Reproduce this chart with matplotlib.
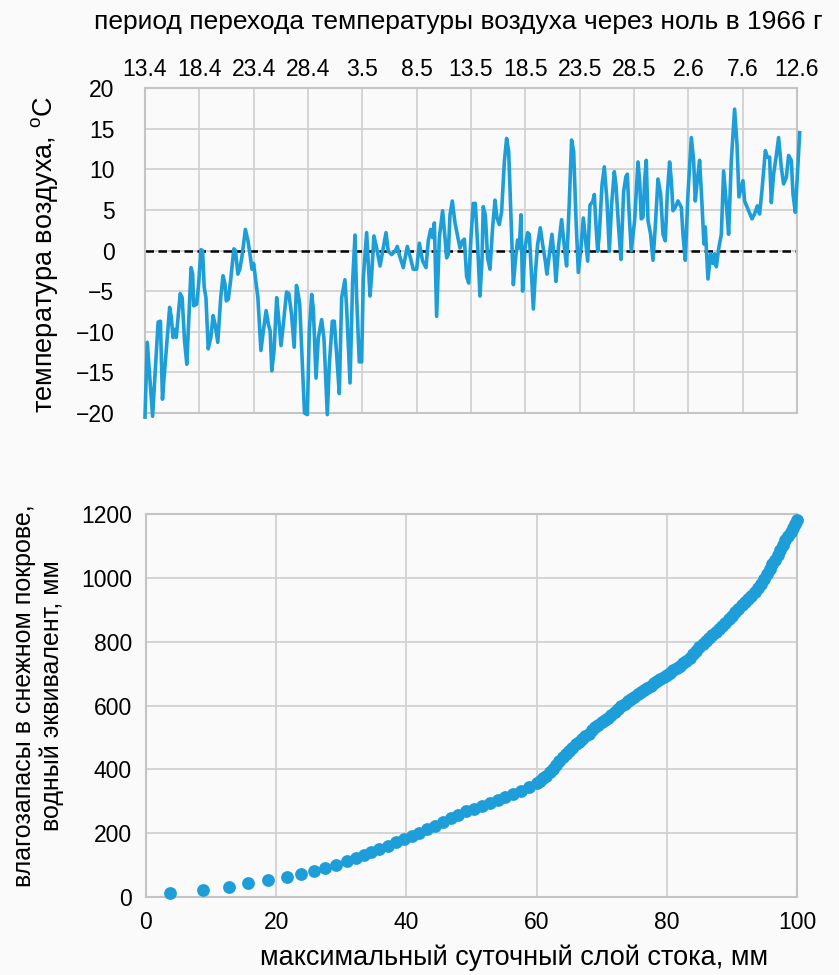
import matplotlib as mpl
import matplotlib.pyplot as plt
import numpy as np

mpl.rcParams["font.family"] = ["Liberation Sans", "DejaVu Sans"]
mpl.rcParams["font.size"] = 16

# --- top panel: air temperature, days since 13.4 ---
date_labels = ["13.4", "18.4", "23.4", "28.4", "3.5", "8.5", "13.5",
               "18.5", "23.5", "28.5", "2.6", "7.6", "12.6"]
day = [0.0, 0.21, 0.70, 1.21, 1.42, 1.61, 1.76, 2.27, 2.42, 2.58, 2.73, 2.88,
       3.24, 3.42, 3.64, 3.85, 4.24, 4.39, 4.48, 4.76, 4.94, 5.15, 5.30, 5.45,
       5.61, 5.82, 6.06, 6.27, 6.45, 6.70, 6.97, 7.18, 7.36, 7.48, 7.67, 7.88,
       8.18, 8.33, 8.55, 8.73, 8.94, 9.24, 9.48, 9.70, 9.85, 10.0, 10.21, 10.39,
       10.67, 10.91, 11.15, 11.36, 11.52, 11.67, 11.88, 12.12, 12.27, 12.52,
       12.73, 13.03, 13.24, 13.48, 13.73, 13.94, 14.09, 14.24, 14.39, 14.68,
       14.94, 15.12, 15.34, 15.49, 15.74, 15.95, 16.26, 16.47, 16.78, 16.96,
       17.24, 17.42, 17.64, 17.88, 18.10, 18.40, 18.56, 18.87, 19.11, 19.33,
       19.48, 19.72, 19.94, 20.09, 20.40, 20.55, 20.71, 20.86, 21.07, 21.32,
       21.63, 21.87, 22.18, 22.39, 22.70, 23.01, 23.22, 23.40, 23.77, 24.14,
       24.39, 24.69, 25.0, 25.25, 25.55, 25.86, 26.07, 26.29, 26.47, 26.63,
       26.84, 27.09, 27.39, 27.61, 27.76, 27.91, 28.07, 28.28, 28.53, 28.74,
       28.99, 29.23, 29.39, 29.60, 29.79, 30.0, 30.21, 30.40, 30.61, 30.83,
       31.01, 31.13, 31.32, 31.53, 31.75, 31.99, 32.21, 32.39, 32.61, 32.82,
       33.07, 33.28, 33.47, 33.68, 33.90, 34.08, 34.29, 34.45, 34.60, 34.75,
       34.97, 35.21, 35.37, 35.52, 35.74, 35.92, 36.13, 36.38, 36.60, 36.84,
       36.99, 37.21, 37.45, 37.67, 37.82, 38.07, 38.34, 38.59, 38.80, 39.05,
       39.26, 39.45, 39.66, 39.88, 40.12, 40.34, 40.52, 40.74, 40.95, 41.20,
       41.35, 41.50, 41.66, 41.81, 42.06, 42.27, 42.52, 42.73, 42.94, 43.19,
       43.34, 43.59, 43.80, 44.05, 44.26, 44.39, 44.51, 44.75, 45.06, 45.37,
       45.52, 45.67, 45.83, 45.98, 46.13, 46.29, 46.53, 46.75, 46.96, 47.21,
       47.45, 47.67, 47.88, 48.07, 48.28, 48.44, 48.59, 48.80, 49.05, 49.36,
       49.51, 49.72, 49.97, 50.28, 50.49, 50.64, 50.83, 51.04, 51.26, 51.44,
       51.56, 51.81, 52.06, 52.27, 52.42, 52.58, 52.79, 53.04, 53.25, 53.50,
       53.71, 53.96, 54.26, 54.48, 54.66, 54.88, 55.03, 55.18, 55.49, 55.86,
       56.10, 56.35, 56.56, 56.78, 57.09, 57.27, 57.48, 57.64, 57.85, 58.10,
       58.31, 58.56, 58.77, 59.02, 59.23, 59.48, 59.63, 59.85, 60.25]
temp = [-20.5, -11.3, -20.4, -8.8, -8.7, -18.3, -15.6, -7.0, -8.2, -10.7, -9.7, -10.7,
        -5.3, -5.8, -11.1, -14.0, -2.1, -2.9, -6.8, -6.6, -4.1, 0.1, 0.0, -4.5,
        -5.8, -12.1, -10.7, -8.0, -9.1, -11.3, -5.8, -3.1, -4.1, -6.2, -6.0, -3.7,
        0.2, 0.0, -2.9, -2.3, -0.6, 2.6, 1.2, -0.8, -2.3, -1.6, -3.9, -5.8,
        -12.3, -9.7, -7.4, -9.1, -9.9, -14.8, -12.3, -5.8, -7.8, -11.7,
        -9.1, -5.1, -5.3, -7.8, -11.9, -4.3, -5.3, -6.6, -11.1, -20.0,
        -20.2, -10.0, -5.4, -7.1, -15.7, -10.8, -8.5, -10.8, -20.2, -14.1,
        -8.7, -8.7, -12.8, -17.6, -5.8, -3.6, -7.1, -16.3, -3.8, 1.9,
        -5.8, -13.7, -13.7, -3.4, 2.2, -1.7, -5.6, -3.0, 1.8, 0.3,
        -1.9, -0.1, 2.2, -0.1, -0.5, -0.1, 0.5, -0.5, -2.1, 0.5,
        -0.7, -2.3, -2.3, 0.9, -1.3, -2.1, 1.2, 2.6, 1.6, 3.4,
        -8.1, 1.6, 4.9, 1.6, -0.9, -0.5, 4.4, 6.1, 3.4, 2.0,
        0.3, 1.2, 1.4, -3.2, -4.0, 1.6, 5.8, 5.8, 0.7, -5.6,
        -1.3, 5.4, 4.4, -0.9, -2.3, 2.8, 6.2, 4.0, 3.2, 4.8,
        10.9, 13.8, 12.2, 4.0, -4.2, -1.3, 1.3, 0.3, 4.4, -5.0,
        0.3, 2.2, 2.0, -1.7, -7.2, -2.9, 0.7, 2.8, 0.7, -1.3,
        -2.9, -0.5, 2.0, -0.9, -3.8, 0.7, 3.8, 0.5, -1.9, 6.0,
        13.6, 12.2, 4.0, -2.7, 0.3, 4.0, 1.6, -1.3, 5.6, 6.0,
        6.9, 3.2, -0.1, 2.0, 8.1, 10.3, 6.0, -0.1, 5.6, 9.7,
        8.1, 2.8, -1.1, 7.3, 9.1, 9.4, 5.7, 0.0, 3.7, 10.9,
        8.6, 3.9, 4.1, 8.6, 11.1, 3.7, 2.0, -1.2, 2.9, 8.8,
        7.0, 2.0, 1.2, 7.0, 10.9, 8.6, 4.9, 5.3, 6.1, 5.3,
        2.0, -1.2, 7.0, 13.9, 11.1, 6.1, 8.6, 11.1, 5.7, 0.8,
        2.9, -3.5, -0.4, -1.6, -0.4, -2.0, 0.2, 2.0, 9.8, 5.7,
        2.0, 11.1, 17.4, 13.1, 6.6, 7.8, 8.6, 6.1, 5.1, 3.9,
        4.5, 5.5, 4.5, 7.4, 12.3, 11.5, 11.5, 5.9, 9.4, 11.7,
        13.9, 10.2, 8.2, 9.0, 11.7, 11.1, 7.0, 4.7, 14.5]
zero_level = 0

# --- bottom panel: runoff vs snow water equivalent ---
runoff = [3.7, 8.7, 12.8, 15.6, 18.8, 21.6, 23.8, 25.8, 27.5, 29.2, 30.8, 32.2,
          33.5, 34.6, 35.8, 37.1, 38.4, 39.6, 40.8, 42.0, 43.2, 44.4, 45.6, 46.8,
          48.0, 49.2, 50.4, 51.6, 52.8, 54.0, 55.2, 56.4, 57.6, 58.8,
          60.0, 60.5, 61.0, 61.5, 62.0, 62.5, 63.0, 63.5, 64.0, 64.5, 65.0, 65.5,
          66.0, 66.5, 67.0, 67.5, 68.0, 68.5, 69.0, 69.5, 70.0, 70.5, 71.0, 71.5,
          72.0, 72.5, 73.0, 73.5, 74.0, 74.5, 75.0, 75.5, 76.0, 76.5, 77.0, 77.5,
          78.0, 78.5, 79.0, 79.5, 80.0, 80.5, 81.0, 81.5, 82.0, 82.5, 83.0, 83.5,
          84.0, 84.5, 85.0, 85.5, 86.0, 86.5, 87.0, 87.5, 88.0, 88.5, 89.0, 89.5,
          90.0, 90.5, 91.0, 91.5, 92.0, 92.5, 93.0, 93.5, 94.0, 94.5, 95.0, 95.4,
          95.8, 96.2, 96.6, 97.0, 97.4, 97.8, 98.2, 98.6, 99.0, 99.4, 99.7, 100.0]
swe = [13, 22, 32, 43, 52, 63, 72, 82, 92, 101, 112, 121,
       131, 140, 151, 161, 172, 182, 192, 201, 213, 224, 235, 246,
       258, 268, 276, 285, 295, 304, 313, 323, 333, 345,
       358, 364, 372, 380, 391, 402, 415, 427, 438, 449, 459, 468,
       478, 487, 495, 503, 511, 522, 532, 540, 548, 555, 562, 570,
       579, 588, 597, 605, 614, 621, 628, 635, 641, 648, 655, 662,
       669, 676, 682, 689, 696, 703, 710, 717, 724, 732, 741, 750,
       760, 771, 782, 793, 803, 812, 821, 830, 840, 849, 859, 870,
       881, 892, 903, 914, 925, 934, 944, 955, 967, 981, 996, 1012,
       1028, 1043, 1057, 1072, 1088, 1103, 1118, 1131, 1144, 1157, 1168, 1180]

blue = "#1e9ed8"
grid_c = "#d2d2d2"
bg = "#fafafa"

fig = plt.figure(figsize=(8.39, 9.75), dpi=100, facecolor=bg)

ax1 = fig.add_axes([0.1728, 0.5764, 0.7771, 0.3333], facecolor=bg)
ax1.plot(day, temp, color=blue, lw=2.6, clip_on=False, zorder=3,
         solid_joinstyle="round")
ax1.axhline(zero_level, color="black", lw=1.8, linestyle=(0, (3.4, 1.8)), zorder=2)
ax1.set_xlim(0, 60)
ax1.set_ylim(-20, 20)
ax1.set_xticks(np.arange(0, 61, 5))
ax1.set_xticklabels(date_labels)
ax1.xaxis.tick_top()
ax1.set_yticks(np.arange(-20, 21, 5))
ax1.tick_params(axis="x", length=0, pad=5, labelsize=16.5)
ax1.tick_params(axis="y", length=0, pad=22, labelsize=16.5)
ax1.grid(True, color=grid_c, lw=1.3)
ax1.set_axisbelow(True)

ax2 = fig.add_axes([0.174, 0.0800, 0.776, 0.3928], facecolor=bg)
ax2.scatter(runoff, swe, s=85, color=blue, linewidths=0, clip_on=False, zorder=3)
ax2.set_xlim(0, 100)
ax2.set_ylim(0, 1200)
ax2.set_xticks(np.arange(0, 101, 20))
ax2.set_yticks(np.arange(0, 1201, 200))
ax2.tick_params(axis="x", length=0, pad=10, labelsize=16.5)
ax2.tick_params(axis="y", length=0, pad=10, labelsize=16.5)
ax2.grid(True, color=grid_c, lw=1.3)
ax2.set_axisbelow(True)

for ax in (ax1, ax2):
    for sp in ax.spines.values():
        sp.set_color("#c4c4c4")
        sp.set_linewidth(1.5)

fig.text(94 / 839, 1 - 22 / 975, "период перехода температуры воздуха через ноль в 1966 г",
         ha="left", va="center", fontsize=19)
fig.text(45 / 839, 1 - 255 / 975, "температура воздуха, $^{\\mathregular{o}}$C",
         rotation=90, ha="center", va="center", fontsize=19.5)
fig.text(38 / 839, 1 - 696 / 975, "влагозапасы в снежном покрове,\nводный эквивалент, мм",
         rotation=90, ha="center", va="center", fontsize=18, linespacing=1.15)
fig.text(514 / 839, 1 - 958 / 975, "максимальный суточный слой стока, мм",
         ha="center", va="center", fontsize=19.5)

fig.savefig("out.png", dpi=100, facecolor=bg)
